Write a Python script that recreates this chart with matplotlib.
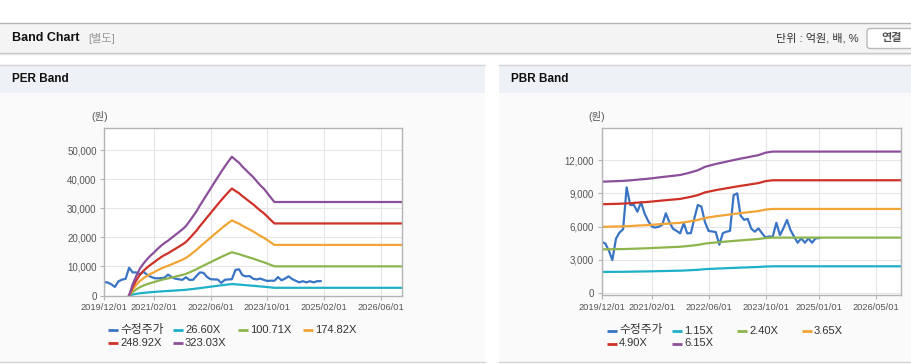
import pandas as pd
import matplotlib
matplotlib.use('Agg')
import matplotlib.pyplot as plt
from matplotlib.patches import Rectangle, FancyBboxPatch

plt.rcParams['font.family'] = ['Liberation Sans', 'Noto Sans CJK KR', 'DejaVu Sans']

# adjusted share price, monthly from 2019/12
price_start = '2019-12-01'
price = [4620, 4450, 3800, 2950, 4900, 5450, 5750, 9550, 7950, 7950,
         7340, 8200, 7190, 6500, 6000, 5900, 5980, 6150, 7200, 6400,
         5800, 5600, 5380, 6290, 5380, 5400, 6800, 7950, 7800, 6400,
         5600, 5550, 5500, 4350, 5400, 5530, 5600, 8850, 9000, 7000,
         6600, 6700, 5800, 5530, 5830, 5380, 5010, 5100, 5070, 6340,
         5220, 5830, 6590, 5680, 5070, 4530, 4920, 4530, 4920, 4530,
         4920, 4950]

# EPS behind the PER band, monthly 2020/07 - 2023/12, then held to 2026/12
per_eps_start, per_eps_stop, band_end = '2020-07-01', '2023-12-01', '2026-12-01'
per_eps = [0, 12, 21, 28.5, 34, 38.5, 42.5, 46, 49.5, 53,
           56, 58.5, 61.5, 64.5, 67.5, 70.5, 74, 79, 84.5, 90,
           96, 102, 108, 114, 120, 126, 132, 137.5, 143, 148,
           144.6, 141.5, 137.5, 133.7, 130, 126.3, 122, 117.6, 113.9, 109.3,
           104.3, 99.7, 99.7]
per_mult = [26.60, 100.71, 174.82, 248.92, 323.03]

# BPS behind the PBR band, monthly 2019/12 - 2023/12, then held to 2026/12
pbr_bps_stop = '2023-12-01'
pbr_bps = [1637, 1638, 1640, 1642, 1644, 1646, 1648, 1652, 1656, 1661,
           1666, 1671, 1675, 1680, 1686, 1692, 1699, 1705, 1711, 1717,
           1723, 1729, 1735, 1748, 1760, 1775, 1790, 1805, 1830, 1855,
           1869, 1883, 1897, 1909, 1920, 1932, 1943, 1955, 1966, 1976,
           1986, 1996, 2007, 2017, 2028, 2046, 2064, 2072, 2080, 2080]
pbr_mult = [1.15, 2.40, 3.65, 4.90, 6.15]

per_ticks = ['2019/12/01', '2021/02/01', '2022/06/01', '2023/10/01', '2025/02/01', '2026/06/01']
pbr_ticks = ['2019/12/01', '2021/02/01', '2022/06/01', '2023/10/01', '2025/01/01', '2026/05/01']
per_yticks = [0, 10000, 20000, 30000, 40000, 50000]
pbr_yticks = [0, 3000, 6000, 9000, 12000]

price_label = '수정주가'
price_color = '#3a74c4'
band_colors = ['#1eb0c8', '#8db54e', '#f2a435', '#cd3127', '#8b4f9c']

price_dates = pd.date_range(price_start, periods=len(price), freq='MS')
per_dates = list(pd.date_range(per_eps_start, per_eps_stop, freq='MS')) + [pd.Timestamp(band_end)]
pbr_dates = list(pd.date_range(price_start, pbr_bps_stop, freq='MS')) + [pd.Timestamp(band_end)]

W, H = 912, 364
fig = plt.figure(figsize=(W / 100, H / 100), dpi=100)

# page background drawn in pixel coordinates
bg = fig.add_axes([0, 0, 1, 1], zorder=0)
bg.set_xlim(0, W)
bg.set_ylim(H, 0)
bg.axis('off')

bg.add_patch(Rectangle((0, 22.5), W, 30, facecolor='#f4f4f4', edgecolor='none'))
bg.plot([0, W], [22.5, 22.5], color='#b4b4b4', lw=1)
bg.plot([0, W], [52.5, 52.5], color='#c4c4c4', lw=1)
bg.plot([0, W], [53.5, 53.5], color='#e4e4e4', lw=1)
bg.text(12, 38, 'Band Chart', fontsize=9, fontweight='bold', color='#111', va='center')
bg.text(88, 38, '[별도]', fontsize=8, color='#999', va='center')
bg.text(859, 38, '단위 : 억원, 배, %', fontsize=8, color='#333', va='center', ha='right')
bg.add_patch(FancyBboxPatch((867, 28.5), 60, 20, boxstyle='round,pad=0,rounding_size=3',
                            facecolor='white', edgecolor='#b8b8b8', lw=1))
bg.text(892, 38.5, '연결', fontsize=8, fontweight='bold', color='#555', va='center', ha='center')

panels = [(0, 485, 'PER Band'), (499, W, 'PBR Band')]
for x0, x1, title in panels:
    bg.add_patch(Rectangle((x0, 64.5), x1 - x0, 28, facecolor='#eef2f7', edgecolor='none'))
    bg.add_patch(Rectangle((x0, 92.5), x1 - x0, 269, facecolor='#fafafa', edgecolor='none'))
    bg.plot([x0, x1], [64.5, 64.5], color='#d4d4d4', lw=1)
    bg.plot([x0, x1], [361.5, 361.5], color='#d4d4d4', lw=1)
    bg.text(x0 + 12, 79, title, fontsize=8.5, fontweight='bold', color='#111', va='center')

bg.text(100, 117, '(원)', fontsize=7.5, color='#555', va='center', ha='center')
bg.text(597, 117, '(원)', fontsize=7.5, color='#555', va='center', ha='center')


def style_axes(ax, ticks, yticks, ylim):
    ax.set_facecolor('white')
    ax.set_xlim(pd.Timestamp('2019-12-01'), pd.Timestamp(band_end))
    ax.set_ylim(*ylim)
    ax.set_xticks([pd.Timestamp(t.replace('/', '-')) for t in ticks])
    ax.set_xticklabels(ticks)
    ax.set_yticks(yticks)
    ax.set_yticklabels([f'{v:,}' for v in yticks])
    ax.grid(True, color='#e6e6e6', lw=0.8)
    ax.set_axisbelow(True)
    for s in ax.spines.values():
        s.set_color('#b4b4b4')
        s.set_linewidth(1)
    ax.tick_params(length=3, width=0.8, color='#b4b4b4', labelsize=7,
                   labelcolor='#555', pad=2.5)
    ax.tick_params(axis='x', labelsize=6.7)


def draw_legend(x0, y0, labels, colors):
    for i, (lab, c) in enumerate(zip(labels, colors)):
        row, col = divmod(i, 4)
        x = x0 + col * 65
        y = y0 + row * 13
        bg.plot([x, x + 10], [y, y], color=c, lw=2, solid_capstyle='butt')
        size = 8.5 if i == 0 else 8
        bg.text(x + 12, y, lab, fontsize=size, color='#333', va='center')


def band_chart(rect, base_dates, base, mults, ticks, yticks, ylim):
    ax = fig.add_axes(rect, zorder=1)
    ax.plot(price_dates, price, color=price_color, lw=1.6)
    for m, c in zip(mults, band_colors):
        ax.plot(base_dates, [b * m for b in base], color=c, lw=1.6)
    style_axes(ax, ticks, yticks, ylim)
    return ax


def frac(x0, x1, ytop, ybot):
    return [x0 / W, 1 - ybot / H, (x1 - x0) / W, (ybot - ytop) / H]


band_chart(frac(104.3, 402, 128, 295.5), per_dates, per_eps, per_mult,
           per_ticks, per_yticks, (0, 57700))
band_chart(frac(601.7, 901, 128, 295), pbr_dates, pbr_bps, pbr_mult,
           pbr_ticks, pbr_yticks, (-210, 14930))

draw_legend(108, 330, [price_label] + [f'{m:.2f}X' for m in per_mult],
            [price_color] + band_colors)
draw_legend(607, 330.5, [price_label] + [f'{m:.2f}X' for m in pbr_mult],
            [price_color] + band_colors)

fig.savefig('out.png', dpi=100)
